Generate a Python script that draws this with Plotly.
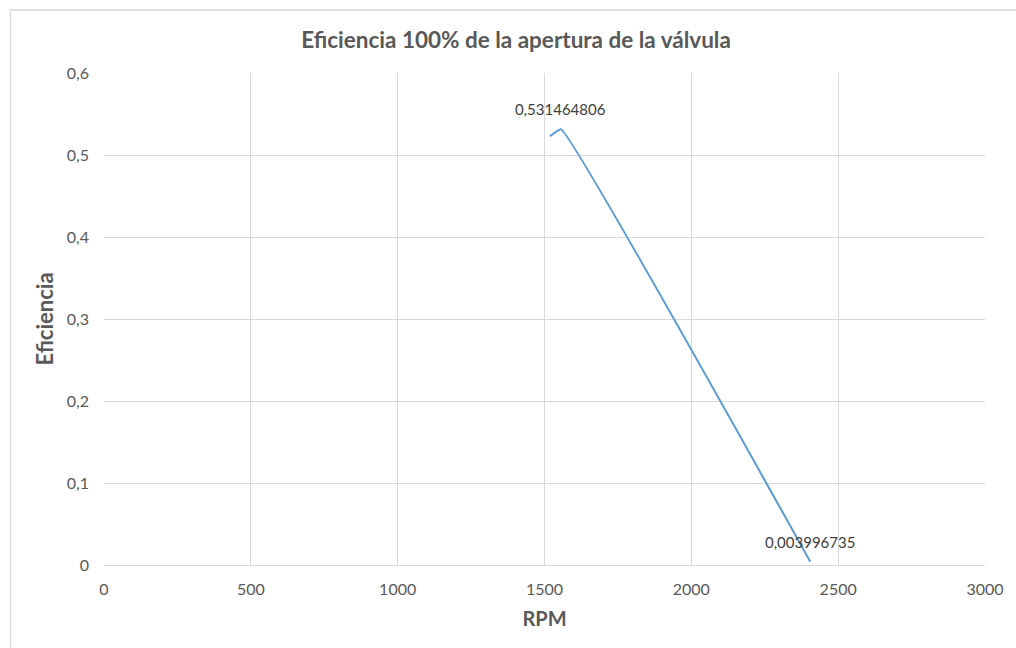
import plotly.graph_objects as go

# Efficiency vs RPM at 100% valve opening
rpm = [1519, 1556, 2405]
eficiencia = [0.523, 0.531464806, 0.003996735]
labeled = [1, 2]  # indices of points that carry a value label

x_ticks = [0, 500, 1000, 1500, 2000, 2500, 3000]
y_ticks = [0, 0.1, 0.2, 0.3, 0.4, 0.5, 0.6]

grey_text = "#595959"
grid = "#D9D9D9"
font_family = "Lato, 'Open Sans', sans-serif"

fig = go.Figure()
fig.add_trace(go.Scatter(
    x=rpm, y=eficiencia,
    mode="lines",
    line=dict(color="#5B9BD5", width=2, shape="spline", smoothing=0.3),
    hoverinfo="x+y",
    showlegend=False,
))

for i in labeled:
    fig.add_annotation(
        x=rpm[i], y=eficiencia[i],
        text=f"{eficiencia[i]:.9f}".replace(".", ","),
        showarrow=False, yanchor="middle", yshift=20,
        font=dict(family=font_family, size=15, color="#404040"),
    )

# outer chart frame
fig.add_shape(
    type="rect", xref="paper", yref="paper",
    x0=-0.1062, x1=1.2, y0=-0.3, y1=1.128,
    line=dict(color=grid, width=1.3), fillcolor="rgba(0,0,0,0)",
    layer="below",
)

fig.update_layout(
    width=1016, height=648,
    margin=dict(l=104, r=27, t=73, b=83),
    paper_bgcolor="white", plot_bgcolor="white",
    separators=",.",
    font=dict(family=font_family, color=grey_text),
    title=dict(
        text="<b>Eficiencia 100% de la apertura de la válvula</b>",
        x=516 / 1016, xanchor="center", xref="container",
        y=1 - 40 / 648, yanchor="middle",
        font=dict(family=font_family, size=22.5, color=grey_text),
    ),
    xaxis=dict(
        range=[0, 3000], tickvals=x_ticks,
        showgrid=True, gridcolor=grid, gridwidth=1,
        zeroline=False, showline=True, linecolor=grid, mirror=False,
        ticks="", ticklabelstandoff=10, tickfont=dict(size=16, color=grey_text),
        title=dict(text="<b>RPM</b>", font=dict(size=20, color=grey_text), standoff=14),
    ),
    yaxis=dict(
        range=[0, 0.6], tickvals=y_ticks,
        showgrid=True, gridcolor=grid, gridwidth=1,
        zeroline=False, showline=False,
        ticks="", ticklabelstandoff=14, tickfont=dict(size=16, color=grey_text),
        title=dict(text="<b>Eficiencia</b>", font=dict(size=22, color=grey_text), standoff=7),
    ),
)

fig.write_html("out.html")
